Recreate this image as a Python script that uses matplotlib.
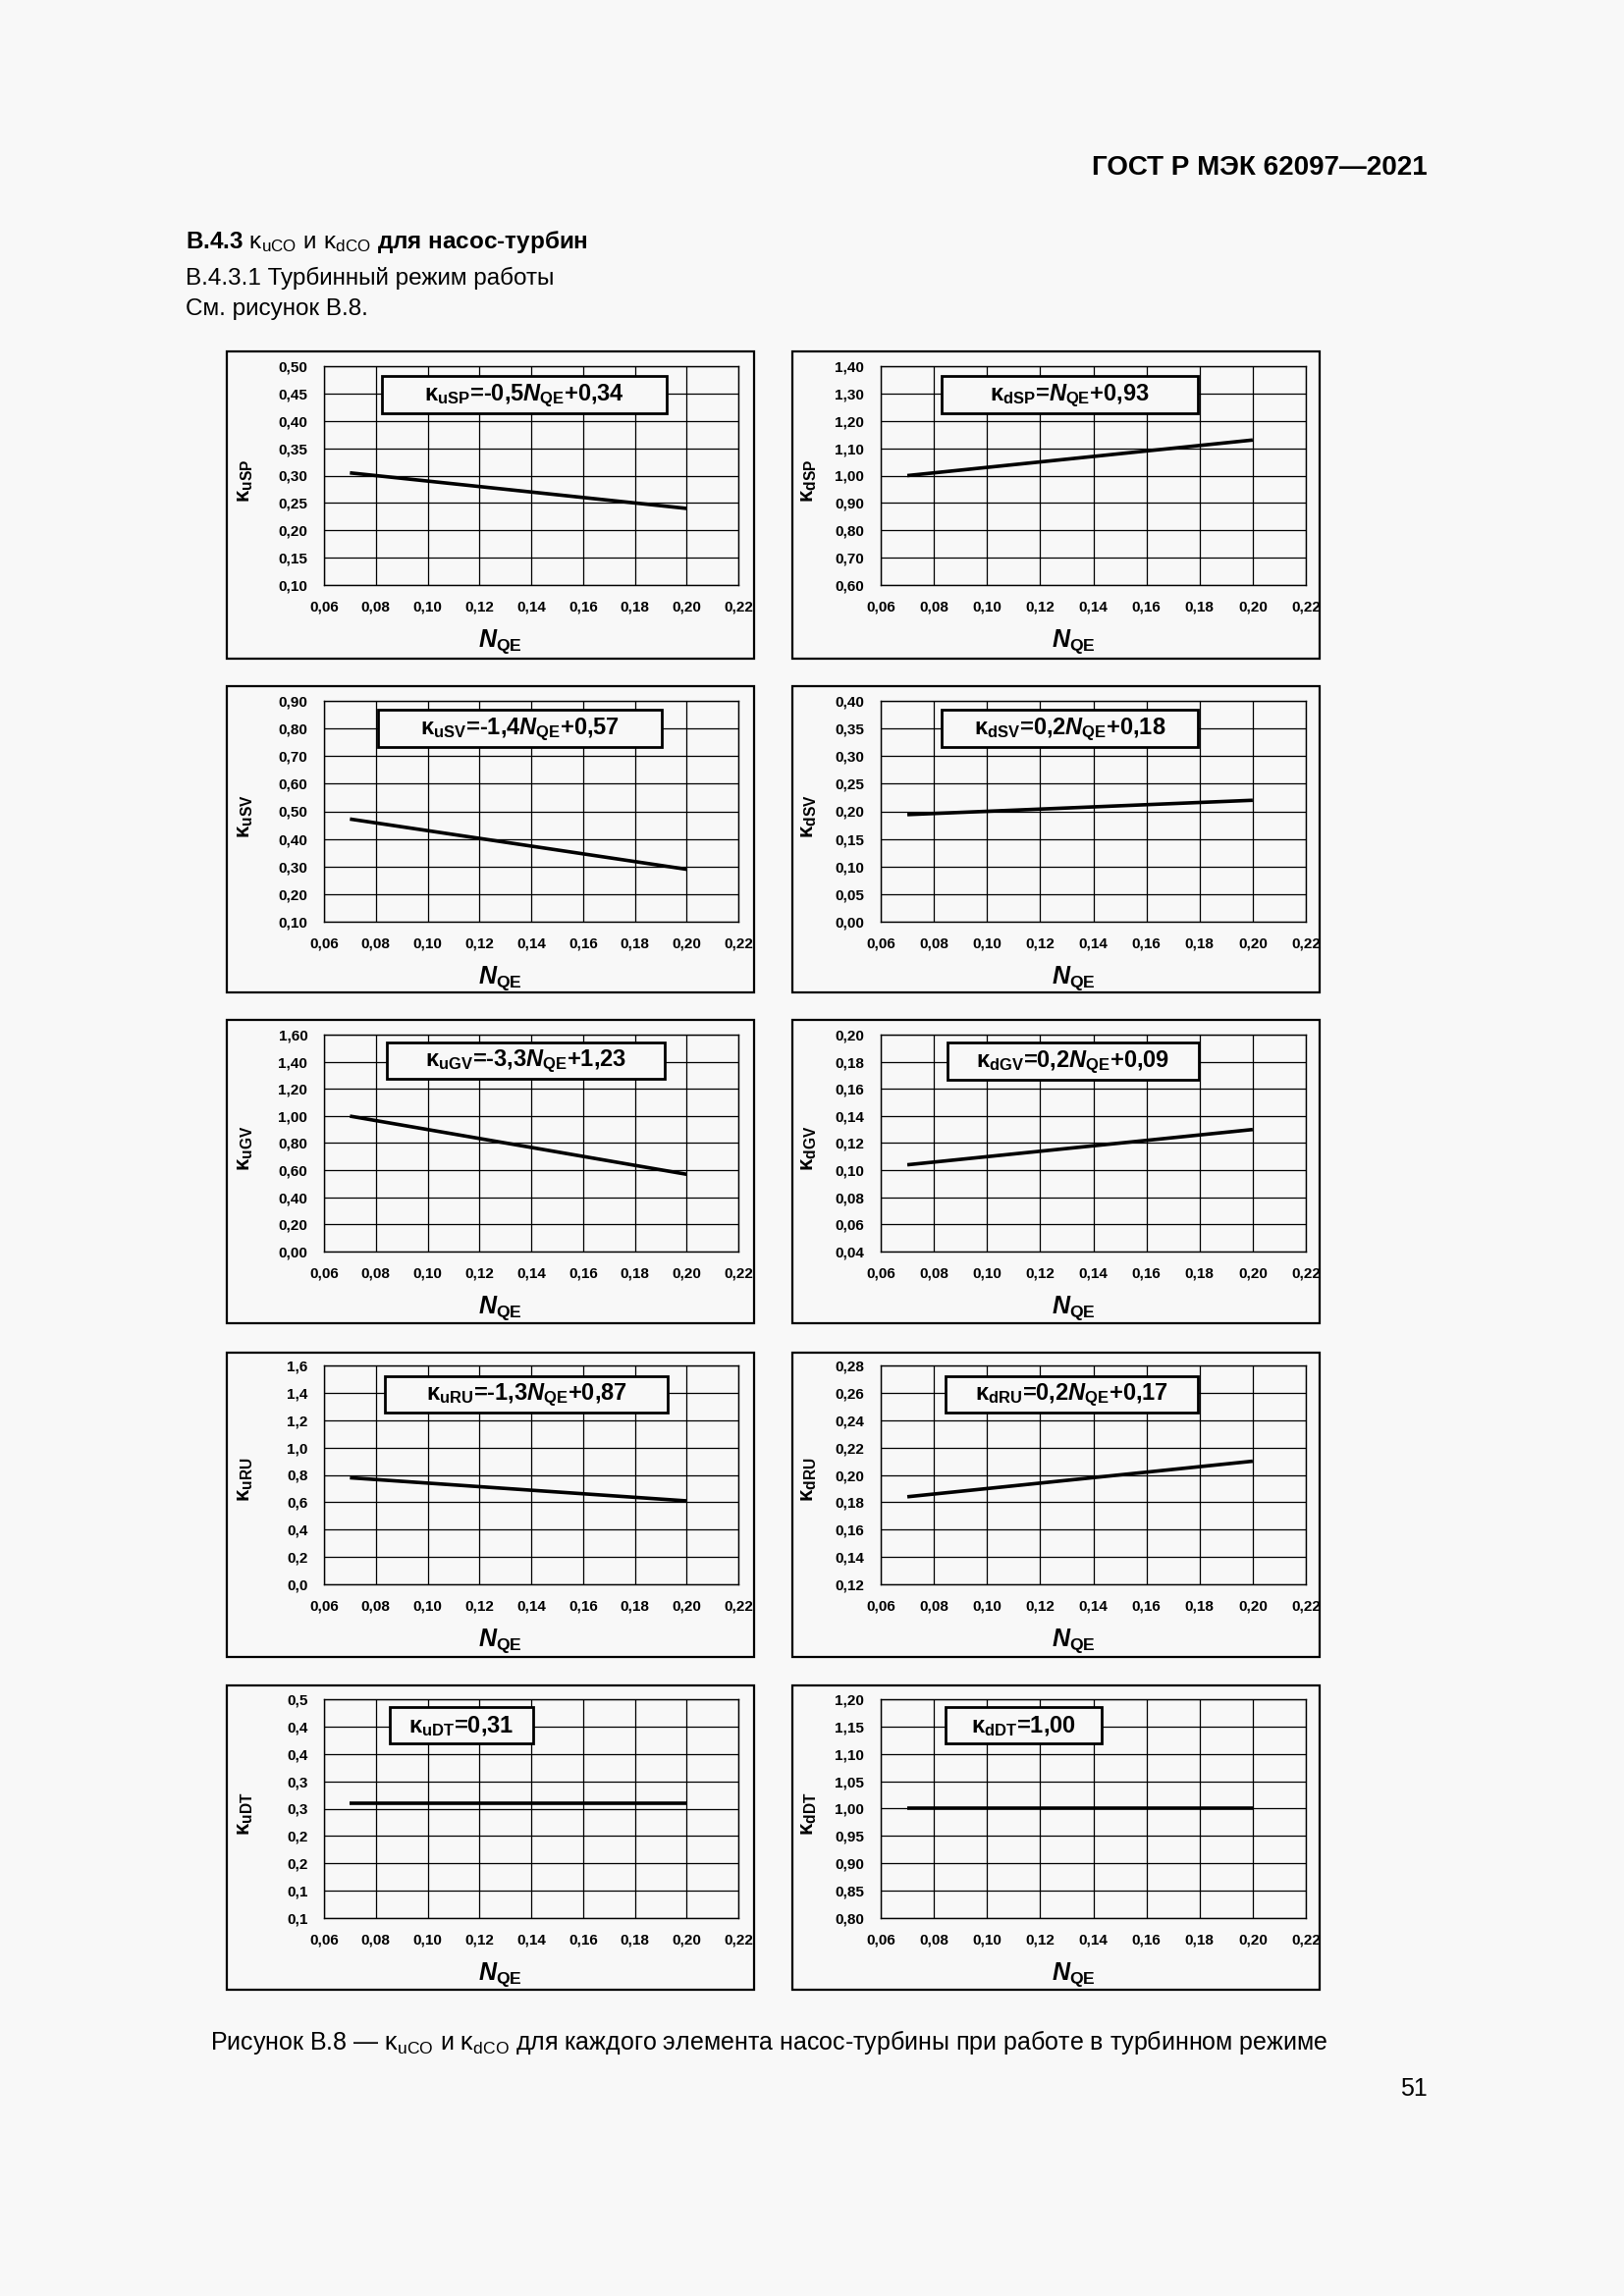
import matplotlib
matplotlib.use("Agg")
import matplotlib.pyplot as plt
from matplotlib.patches import Rectangle

plt.rcParams['font.family'] = ['Liberation Sans', 'DejaVu Sans']
plt.rcParams['mathtext.fontset'] = 'custom'
plt.rcParams['mathtext.rm'] = 'Liberation Sans:bold'
plt.rcParams['mathtext.bf'] = 'Liberation Sans:bold'
plt.rcParams['mathtext.it'] = 'Liberation Sans:italic:bold'
plt.rcParams['mathtext.sf'] = 'Liberation Sans'
plt.rcParams['mathtext.default'] = 'it'

# ---------------- data ----------------
nqe = [0.07, 0.20]
x_ticks = [0.06, 0.08, 0.10, 0.12, 0.14, 0.16, 0.18, 0.20, 0.22]
x_tick_labels = ['0,06', '0,08', '0,10', '0,12', '0,14', '0,16', '0,18', '0,20', '0,22']

names = ['uSP', 'dSP', 'uSV', 'dSV', 'uGV', 'dGV', 'uRU', 'dRU', 'uDT', 'dDT']

k_uSP = [0.305, 0.24]
k_dSP = [1.00, 1.13]
k_uSV = [0.472, 0.29]
k_dSV = [0.194, 0.22]
k_uGV = [0.999, 0.57]
k_dGV = [0.104, 0.13]
k_uRU = [0.779, 0.61]
k_dRU = [0.184, 0.21]
k_uDT = [0.31, 0.31]
k_dDT = [1.00, 1.00]
series = [k_uSP, k_dSP, k_uSV, k_dSV, k_uGV, k_dGV, k_uRU, k_dRU, k_uDT, k_dDT]

yt_uSP = [0.10, 0.15, 0.20, 0.25, 0.30, 0.35, 0.40, 0.45, 0.50]
yt_dSP = [0.60, 0.70, 0.80, 0.90, 1.00, 1.10, 1.20, 1.30, 1.40]
yt_uSV = [0.10, 0.20, 0.30, 0.40, 0.50, 0.60, 0.70, 0.80, 0.90]
yt_dSV = [0.00, 0.05, 0.10, 0.15, 0.20, 0.25, 0.30, 0.35, 0.40]
yt_uGV = [0.00, 0.20, 0.40, 0.60, 0.80, 1.00, 1.20, 1.40, 1.60]
yt_dGV = [0.04, 0.06, 0.08, 0.10, 0.12, 0.14, 0.16, 0.18, 0.20]
yt_uRU = [0.0, 0.2, 0.4, 0.6, 0.8, 1.0, 1.2, 1.4, 1.6]
yt_dRU = [0.12, 0.14, 0.16, 0.18, 0.20, 0.22, 0.24, 0.26, 0.28]
yt_uDT = [0.10, 0.15, 0.20, 0.25, 0.30, 0.35, 0.40, 0.45, 0.50]
yt_dDT = [0.80, 0.85, 0.90, 0.95, 1.00, 1.05, 1.10, 1.15, 1.20]
yticks = [yt_uSP, yt_dSP, yt_uSV, yt_dSV, yt_uGV, yt_dGV, yt_uRU, yt_dRU, yt_uDT, yt_dDT]
ydecimals = [2, 2, 2, 2, 2, 2, 1, 2, None, 2]
ylab_uDT = ['0,1', '0,1', '0,2', '0,2', '0,3', '0,3', '0,4', '0,4', '0,5']

equations = [
    r'κ$_{\mathrm{uSP}}$=-0,5$N_{\mathrm{QE}}$+0,34',
    r'κ$_{\mathrm{dSP}}$=$N_{\mathrm{QE}}$+0,93',
    r'κ$_{\mathrm{uSV}}$=-1,4$N_{\mathrm{QE}}$+0,57',
    r'κ$_{\mathrm{dSV}}$=0,2$N_{\mathrm{QE}}$+0,18',
    r'κ$_{\mathrm{uGV}}$=-3,3$N_{\mathrm{QE}}$+1,23',
    r'κ$_{\mathrm{dGV}}$=0,2$N_{\mathrm{QE}}$+0,09',
    r'κ$_{\mathrm{uRU}}$=-1,3$N_{\mathrm{QE}}$+0,87',
    r'κ$_{\mathrm{dRU}}$=0,2$N_{\mathrm{QE}}$+0,17',
    r'κ$_{\mathrm{uDT}}$=0,31',
    r'κ$_{\mathrm{dDT}}$=1,00',
]

# ---------------- layout (pixels) ----------------
W, H = 1654, 2339
BG = '#f8f8f8'
fig = plt.figure(figsize=(W / 100, H / 100), dpi=100, facecolor=BG)

def fx(x):
    return x / W

def fy(y):
    return 1 - y / H

col_x = [(330, 752), (897, 1330)]
row_y = [(373, 596), (714, 939), (1054, 1275), (1391, 1614), (1731, 1954)]
frame_x = [(231, 768), (807, 1344)]
frame_y = [(358, 671), (699, 1011), (1039, 1348), (1378, 1688), (1717, 2027)]
eq_boxes = [
    (389, 679, 383, 421), (959, 1220, 383, 421),
    (385, 674, 723, 761), (959, 1220, 723, 761),
    (394, 677, 1062, 1099), (965, 1221, 1062, 1100),
    (392, 680, 1402, 1439), (963, 1220, 1402, 1439),
    (397, 543, 1739, 1776), (963, 1122, 1739, 1776),
]
xlab_x = [509, 1093]
ylab_x = [250, 824]

for i, name in enumerate(names):
    r, c = divmod(i, 2)
    x0, x1 = col_x[c]
    y0, y1 = row_y[r]
    # outer frame
    fx0, fx1 = frame_x[c]
    fy0, fy1 = frame_y[r]
    fig.add_artist(Rectangle((fx(fx0), fy(fy1)), fx(fx1 - fx0), (fy1 - fy0) / H,
                             transform=fig.transFigure, fill=False, ec='black', lw=1.6))

    ax = fig.add_axes([fx(x0), fy(y1), fx(x1 - x0), (y1 - y0) / H])
    ax.set_facecolor(BG)
    ax.plot(nqe, series[i], color='black', lw=2.6, solid_capstyle='butt', zorder=3)
    ax.set_xlim(0.06, 0.22)
    yt = yticks[i]
    ax.set_ylim(yt[0], yt[-1])
    ax.set_xticks(x_ticks)
    ax.set_xticklabels(x_tick_labels)
    ax.set_yticks(yt)
    if ydecimals[i] is None:
        labs = ylab_uDT
    else:
        labs = [f'{v:.{ydecimals[i]}f}'.replace('.', ',') for v in yt]
    ax.set_yticklabels(labs)
    ax.tick_params(axis='both', length=0, labelsize=11)
    ax.tick_params(axis='y', pad=12)
    ax.tick_params(axis='x', pad=11.5)
    for lab in ax.get_xticklabels() + ax.get_yticklabels():
        lab.set_fontweight('bold')
    ax.grid(True, color='black', lw=0.9)
    ax.set_axisbelow(True)
    for sp in ax.spines.values():
        sp.set_linewidth(1.0)
        sp.set_color('black')

    # equation box
    bx0, bx1, by0, by1 = eq_boxes[i]
    fig.add_artist(Rectangle((fx(bx0), fy(by1)), fx(bx1 - bx0), (by1 - by0) / H,
                             transform=fig.transFigure, fc=BG, ec='black', lw=2.0, zorder=5))
    fig.text(fx((bx0 + bx1) / 2), fy((by0 + by1) / 2 + 1), equations[i],
             ha='center', va='center', fontsize=17, fontweight='bold', zorder=6)

    # axis labels
    fig.text(fx(xlab_x[c]), fy(y1 + 63), r'$N_{\mathrm{QE}}$',
             ha='center', va='baseline', fontsize=18)
    fig.text(fx(ylab_x[c]), fy((y0 + y1) / 2 + 5), r'κ$_{\mathrm{' + name + '}}$',
             ha='center', va='center', rotation=90, fontsize=16, fontweight='bold')

# ---------------- page text ----------------
fig.text(fx(1454), fy(178), 'ГОСТ Р МЭК 62097—2021', ha='right', va='baseline',
         fontsize=20, fontweight='bold')
fig.text(fx(189), fy(253),
         r'В.4.3 $\mathsf{κ}_{\mathsf{uCO}}\mathsf{\ и\ κ}_{\mathsf{dCO}}$ для насос-турбин',
         ha='left', va='baseline', fontsize=17.5, fontweight='bold')
fig.text(fx(189), fy(290), 'В.4.3.1 Турбинный режим работы', ha='left', va='baseline',
         fontsize=17.5)
fig.text(fx(189), fy(321), 'См. рисунок В.8.', ha='left', va='baseline', fontsize=17.5)
fig.text(fx(214), fy(2088),
         r'Рисунок В.8 — $\mathsf{κ}_{\mathsf{uCO}}$ и $\mathsf{κ}_{\mathsf{dCO}}$ для каждого элемента насос-турбины при работе в турбинном режиме',
         ha='left', va='baseline', fontsize=18)
fig.text(fx(1454), fy(2135), '51', ha='right', va='baseline', fontsize=18)

fig.savefig('out.png', dpi=100, facecolor=BG)
